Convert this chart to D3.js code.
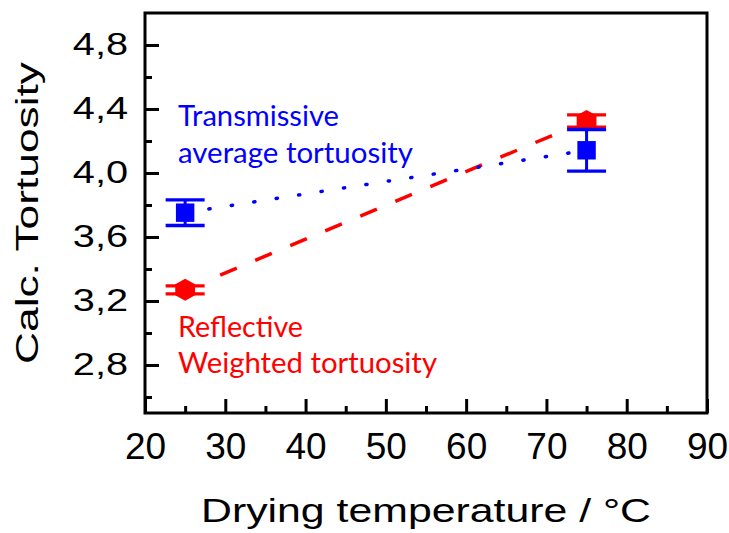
<!DOCTYPE html>
<html>
<head>
<meta charset="utf-8">
<script src="https://cdn.jsdelivr.net/npm/d3@7"></script>
<style>
  body { margin: 0; background: #fff; }
  text { font-family: "Liberation Sans", Arial, sans-serif; fill: #000; }
  .note { font-family: Lato, "Open Sans", sans-serif; }
</style>
</head>
<body>
<svg id="chart" width="729" height="533"></svg>
<script>
// drying temperatures (°C)
const temps = [25, 75];

// reflective - weighted tortuosity
const reflective = [3.27, 4.325];
const reflectiveErr = [0.025, 0.038];

// transmissive - average tortuosity
const transmissive = [3.752, 4.142];
const transmissiveErr = [0.08, 0.13];

const xTicks = [20, 30, 40, 50, 60, 70, 80, 90];
const xMinor = [25, 35, 45, 55, 65, 75, 85];
const yTicks = [2.8, 3.2, 3.6, 4.0, 4.4, 4.8];
const yTickLabels = ["2,8", "3,2", "3,6", "4,0", "4,4", "4,8"];
const yMinor = [2.6, 3.0, 3.4, 3.8, 4.2, 4.6];

const svg = d3.select('#chart');
const plotLeft = 145, plotRight = 707, plotTop = 13, plotBottom = 413;

const x = d3.scaleLinear().domain([20, 90]).range([plotLeft, plotRight]);
const y = d3.scaleLinear().domain([2.5, 5.0]).range([plotBottom, plotTop]);

// stretch a text horizontally (the original fonts are wider than ours)
function stretch(sel, factor) {
  sel.each(function() {
    const w = this.getComputedTextLength();
    this.setAttribute('textLength', w * factor);
    this.setAttribute('lengthAdjust', 'spacingAndGlyphs');
  });
}
function fitTo(sel, width) {
  sel.attr('textLength', width).attr('lengthAdjust', 'spacingAndGlyphs');
}

// frame
svg.append('rect')
  .attr('x', plotLeft).attr('y', plotTop)
  .attr('width', plotRight - plotLeft).attr('height', plotBottom - plotTop)
  .attr('fill', 'none').attr('stroke', '#000').attr('stroke-width', 3);

// x axis, ticks inside
const xAxis = svg.append('g')
  .attr('transform', `translate(0,${plotBottom})`)
  .call(d3.axisBottom(x).tickValues(xTicks).tickSize(-14).tickSizeOuter(0).tickPadding(20).tickFormat(d3.format('d')));
svg.append('g')
  .attr('class', 'minor')
  .attr('transform', `translate(0,${plotBottom})`)
  .call(d3.axisBottom(x).tickValues(xMinor).tickSize(-7).tickSizeOuter(0).tickFormat(''));

const yAxis = svg.append('g')
  .attr('transform', `translate(${plotLeft},0)`)
  .call(d3.axisLeft(y).tickValues(yTicks).tickSize(-14).tickSizeOuter(0).tickPadding(17)
    .tickFormat((d, i) => yTickLabels[i]));
svg.append('g')
  .attr('class', 'minor')
  .attr('transform', `translate(${plotLeft},0)`)
  .call(d3.axisLeft(y).tickValues(yMinor).tickSize(-7).tickSizeOuter(0).tickFormat(''));

svg.selectAll('.domain').remove();
svg.selectAll('.tick line').attr('stroke', '#000').attr('stroke-width', 3);

xAxis.selectAll('text')
  .attr('font-family', '"Liberation Sans", Arial, sans-serif')
  .attr('font-size', 37).attr('fill', '#000');
yAxis.selectAll('text')
  .attr('font-family', '"Liberation Sans", Arial, sans-serif')
  .attr('font-size', 31).attr('fill', '#000')
  .call(stretch, 1.28);

// axis titles
svg.append('text')
  .attr('x', (plotLeft + plotRight) / 2).attr('y', 522)
  .attr('text-anchor', 'middle')
  .attr('font-size', 33)
  .text('Drying temperature / °C')
  .call(fitTo, 450);

svg.append('text')
  .attr('transform', `translate(38,${(plotTop + plotBottom) / 2}) rotate(-90)`)
  .attr('text-anchor', 'middle')
  .attr('font-size', 32)
  .text('Calc. Tortuosity')
  .call(fitTo, 302);

// connecting line with a gap next to the symbols
function gapLine(vals, color, gap, dash, first, width, cap) {
  const x0 = x(temps[0]), y0 = y(vals[0]);
  const x1 = x(temps[1]), y1 = y(vals[1]);
  const len = Math.hypot(x1 - x0, y1 - y0);
  const ux = (x1 - x0) / len, uy = (y1 - y0) / len;
  const pts = [[x0 + ux * gap, y0 + uy * gap], [x1 - ux * gap, y1 - uy * gap]];
  svg.append('path')
    .attr('d', d3.line()(pts))
    .attr('fill', 'none')
    .attr('stroke', color)
    .attr('stroke-width', width)
    .attr('stroke-linecap', cap)
    .attr('stroke-dasharray', dash)
    .attr('stroke-dashoffset', gap - first);
}

gapLine(reflective, '#ff0000', 19, '18,20', 38, 3.5, 'butt');
gapLine(transmissive, '#0000ff', 14, '1.2,21.5', 24, 3.5, 'round');

// pointy-top hexagon
const hexagon = {
  draw(ctx, size) {
    const h = Math.sqrt(size) / 2, w = h * 0.9;
    ctx.moveTo(0, -h);
    ctx.lineTo(w, -h / 2);
    ctx.lineTo(w, h / 2);
    ctx.lineTo(0, h);
    ctx.lineTo(-w, h / 2);
    ctx.lineTo(-w, -h / 2);
    ctx.closePath();
  }
};

function series(vals, errs, color, symbolType, size) {
  const g = svg.append('g');
  const data = temps.map((t, i) => ({ t: t, v: vals[i], e: errs[i] }));
  const capW = 19.5;
  g.selectAll('.stem').data(data).enter().append('line')
    .attr('x1', d => x(d.t)).attr('x2', d => x(d.t))
    .attr('y1', d => y(d.v - d.e)).attr('y2', d => y(d.v + d.e))
    .attr('stroke', color).attr('stroke-width', 3);
  g.selectAll('.symbol').data(data).enter().append('path')
    .attr('transform', d => `translate(${x(d.t)},${y(d.v)})`)
    .attr('d', d3.symbol(symbolType, size))
    .attr('fill', color);
  const caps = data.flatMap(d => [{ t: d.t, v: d.v - d.e }, { t: d.t, v: d.v + d.e }]);
  g.selectAll('.cap').data(caps).enter().append('line')
    .attr('x1', d => x(d.t) - capW).attr('x2', d => x(d.t) + capW)
    .attr('y1', d => y(d.v)).attr('y2', d => y(d.v))
    .attr('stroke', color).attr('stroke-width', 3.3);
}

series(reflective, reflectiveErr, '#ff0000', hexagon, 484);
series(transmissive, transmissiveErr, '#0000ff', d3.symbolSquare, 340);

// annotations
const notes = [
  { text: 'Transmissive', x: 178, y: 126, color: '#0000ff', w: 161 },
  { text: 'average tortuosity', x: 178, y: 163, color: '#0000ff', w: 235 },
  { text: 'Reflective', x: 178, y: 337, color: '#ff0000', w: 125 },
  { text: 'Weighted tortuosity', x: 178, y: 373, color: '#ff0000', w: 259 }
];
svg.selectAll('.note').data(notes).enter().append('text')
  .attr('class', 'note')
  .attr('x', d => d.x).attr('y', d => d.y)
  .attr('font-size', 28)
  .style('fill', d => d.color)
  .attr('textLength', d => d.w)
  .attr('lengthAdjust', 'spacingAndGlyphs')
  .text(d => d.text);
</script>
</body>
</html>
